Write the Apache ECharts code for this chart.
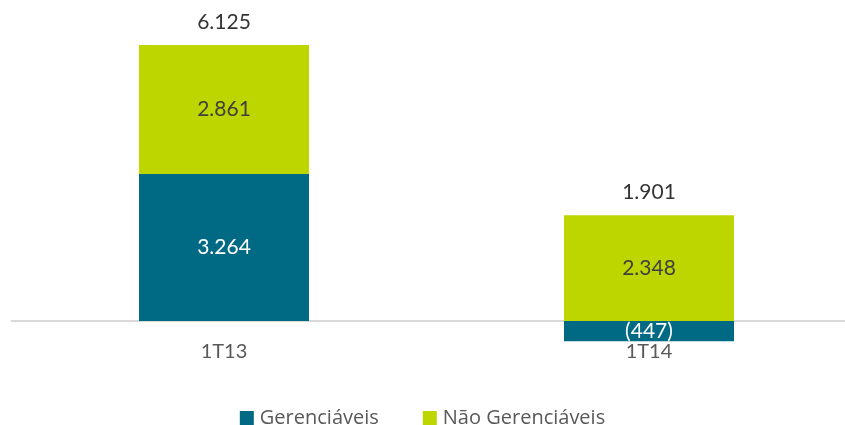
<!DOCTYPE html>
<html>
<head>
<meta charset="utf-8">
<script src="https://cdn.jsdelivr.net/npm/echarts@6/dist/echarts.min.js"></script>
<style>
  html, body { margin: 0; padding: 0; background: #fff; }
  #chart { width: 845px; height: 425px; }
</style>
</head>
<body>
<div id="chart"></div>
<script>
// dados do gráfico
const periodos = ['1T13', '1T14'];
const gerenciaveis = [3264, -447];
const naoGerenciaveis = [2861, 2348];
const totais = [6125, 1901];

// formato brasileiro: 6.125 e negativos entre parênteses
function fmt(n) {
    const s = String(Math.abs(n)).replace(/\B(?=(\d{3})+(?!\d))/g, '.');
    return n < 0 ? '(' + s + ')' : s;
}

// topo da pilha positiva, onde fica o rótulo do total
const topoPositivo = periodos.map((p, i) =>
    Math.max(gerenciaveis[i], 0) + Math.max(naoGerenciaveis[i], 0));

const fonte = 'Lato, "Noto Sans", sans-serif';

var chart = echarts.init(document.getElementById('chart'));

chart.setOption({
    animation: false,
    grid: { left: 11.5, width: 850, top: 5.6, height: 360.5, containLabel: false, outerBoundsMode: 'none' },
    legend: {
        data: ['Gerenciáveis', 'Não Gerenciáveis'],
        left: 'center',
        top: 403,
        itemWidth: 14,
        itemHeight: 14,
        itemGap: 44,
        icon: 'rect',
        textStyle: { fontFamily: '"Open Sans", sans-serif', fontSize: 20, color: '#595959', padding: [0, 0, 0, 1] }
    },
    xAxis: {
        type: 'category',
        data: periodos,
        axisTick: { show: false },
        axisLine: { onZero: true, lineStyle: { color: '#d9d9d9', width: 2 } },
        axisLabel: { fontFamily: fonte, fontSize: 20, color: '#595959', margin: -25 }
    },
    yAxis: {
        type: 'value',
        min: -1000,
        max: 7000,
        show: false,
        splitLine: { show: false }
    },
    series: [
        {
            name: 'Gerenciáveis',
            type: 'bar',
            stack: 'total',
            barWidth: 170,
            data: gerenciaveis,
            itemStyle: { color: '#006a84' },
            label: {
                show: true,
                position: 'inside',
                formatter: p => fmt(p.value),
                fontFamily: fonte,
                fontSize: 21,
                color: '#ffffff'
            }
        },
        {
            name: 'Não Gerenciáveis',
            type: 'bar',
            stack: 'total',
            barWidth: 170,
            data: naoGerenciaveis,
            itemStyle: { color: '#bed600' },
            label: {
                show: true,
                position: 'inside',
                formatter: p => fmt(p.value),
                fontFamily: fonte,
                fontSize: 21,
                color: '#404040'
            }
        },
        {
            name: 'Total',
            type: 'scatter',
            data: topoPositivo,
            symbolSize: 1,
            itemStyle: { color: 'rgba(0,0,0,0)' },
            silent: true,
            label: {
                show: true,
                position: 'top',
                distance: 12,
                formatter: p => fmt(totais[p.dataIndex]),
                fontFamily: fonte,
                fontSize: 21,
                color: '#000000'
            }
        }
    ]
});
</script>
</body>
</html>
